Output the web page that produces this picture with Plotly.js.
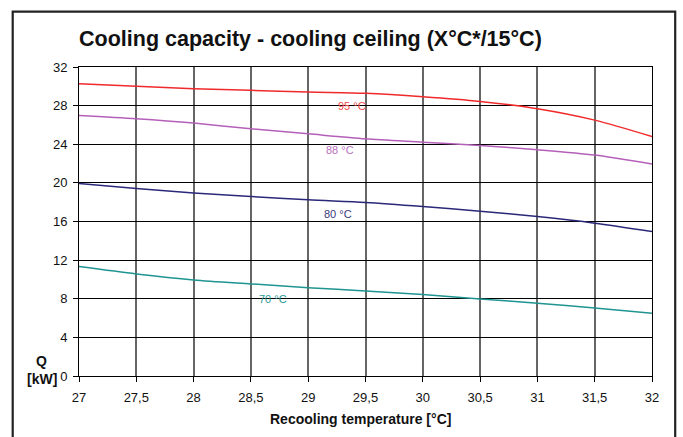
<!DOCTYPE html>
<html>
<head>
<meta charset="utf-8">
<script src="https://cdn.plot.ly/plotly-3.0.1.min.js"></script>
<style>html,body{margin:0;padding:0;background:#fff;}#chart{width:683px;height:437px;}</style>
</head>
<body>
<div id="chart"></div>
<script>
const recoolingTemp = [27, 27.5, 28, 28.5, 29, 29.5, 30, 30.5, 31, 31.5, 32];
const q95 = [30.27, 30.0, 29.75, 29.58, 29.4, 29.27, 28.92, 28.44, 27.68, 26.5, 24.8];
const q88 = [26.98, 26.64, 26.19, 25.6, 25.08, 24.57, 24.22, 23.87, 23.43, 22.88, 21.95];
const q80 = [19.93, 19.42, 18.94, 18.59, 18.24, 17.97, 17.55, 17.07, 16.51, 15.83, 14.96];
const q70 = [11.33, 10.57, 9.95, 9.54, 9.15, 8.81, 8.43, 7.98, 7.53, 7.05, 6.5];
const seriesNames = ["95 °C", "88 °C", "80 °C", "70 °C"];
const labelX = [29.38, 29.28, 29.26, 28.69];
const labelY = [28.0, 23.4, 16.8, 7.95];
const xTickVals = [27, 27.5, 28, 28.5, 29, 29.5, 30, 30.5, 31, 31.5, 32];
const xTickText = ["27", "27,5", "28", "28,5", "29", "29,5", "30", "30,5", "31", "31,5", "32"];
const yTickVals = [0, 4, 8, 12, 16, 20, 24, 28, 32];

const FONT = "Liberation Sans, Arial, Helvetica, sans-serif";
const colors = ["#f02a2a", "#b460b8", "#2a2878", "#1f9490"];
const labelColors = ["#f04a4a", "#b870bc", "#3a3a80", "#2a9a96"];
const allQ = [q95, q88, q80, q70];

const traces = allQ.map((q, i) => ({
  x: recoolingTemp, y: q, type: "scatter", mode: "lines",
  line: {color: colors[i], width: 1.5, shape: "spline", smoothing: 0.8},
  name: seriesNames[i], hoverinfo: "skip"
}));

const annotations = seriesNames.map((n, i) => ({
  x: labelX[i], y: labelY[i], xref: "x", yref: "y", text: n, showarrow: false,
  font: {family: FONT, size: 11, color: labelColors[i]}
}));
annotations.push({
  x: -0.065, y: 0.0486, xref: "paper", yref: "paper", text: "<b>Q</b>", showarrow: false,
  xanchor: "center", yanchor: "middle",
  font: {family: FONT, size: 14, color: "#111"}
});
annotations.push({
  x: -0.065, y: -0.0097, xref: "paper", yref: "paper", text: "<b>[kW]</b>", showarrow: false,
  xanchor: "center", yanchor: "middle",
  font: {family: FONT, size: 14, color: "#111"}
});
annotations.push({
  x: 0.4916, y: -0.139, xref: "paper", yref: "paper", text: "<b>Recooling temperature [°C]</b>",
  showarrow: false, xanchor: "center", yanchor: "middle",
  font: {family: FONT, size: 14, color: "#111"}
});

const layout = {
  width: 683, height: 437,
  margin: {l: 79.3, r: 30.7, t: 67.3, b: 61},
  paper_bgcolor: "#fff", plot_bgcolor: "#fff",
  showlegend: false,
  font: {family: FONT, size: 13, color: "#111"},
  title: {
    text: "<b>Cooling capacity - cooling ceiling (X°C*/15°C)</b>",
    x: 0.1157, xanchor: "left", y: 0.913, yanchor: "middle",
    font: {family: FONT, size: 21.5, color: "#111"}
  },
  xaxis: {
    range: [27, 32], tickvals: xTickVals, ticktext: xTickText,
    showgrid: true, gridcolor: "#666", gridwidth: 2,
    showline: true, linecolor: "#000", linewidth: 1, mirror: true,
    ticks: "outside", ticklen: 5, tickcolor: "#000",
    ticklabelstandoff: 4,
    zeroline: false,
    tickfont: {family: FONT, size: 13, color: "#111"}
  },
  yaxis: {
    range: [0, 32], tickvals: yTickVals,
    showgrid: true, gridcolor: "#000", gridwidth: 1,
    showline: true, linecolor: "#000", linewidth: 1, mirror: true,
    ticks: "outside", ticklen: 5, tickcolor: "#000",
    ticklabelstandoff: 3,
    zeroline: false,
    tickfont: {family: FONT, size: 13, color: "#111"}
  },
  annotations: annotations,
  shapes: [{
    type: "rect", xref: "paper", yref: "paper",
    x0: -0.1157, x1: 1.0405, y0: -0.25, y1: 1.179,
    line: {color: "#222", width: 2.2}, fillcolor: "rgba(0,0,0,0)"
  }]
};

Plotly.newPlot("chart", traces, layout, {displayModeBar: false, staticPlot: true});
</script>
</body>
</html>
